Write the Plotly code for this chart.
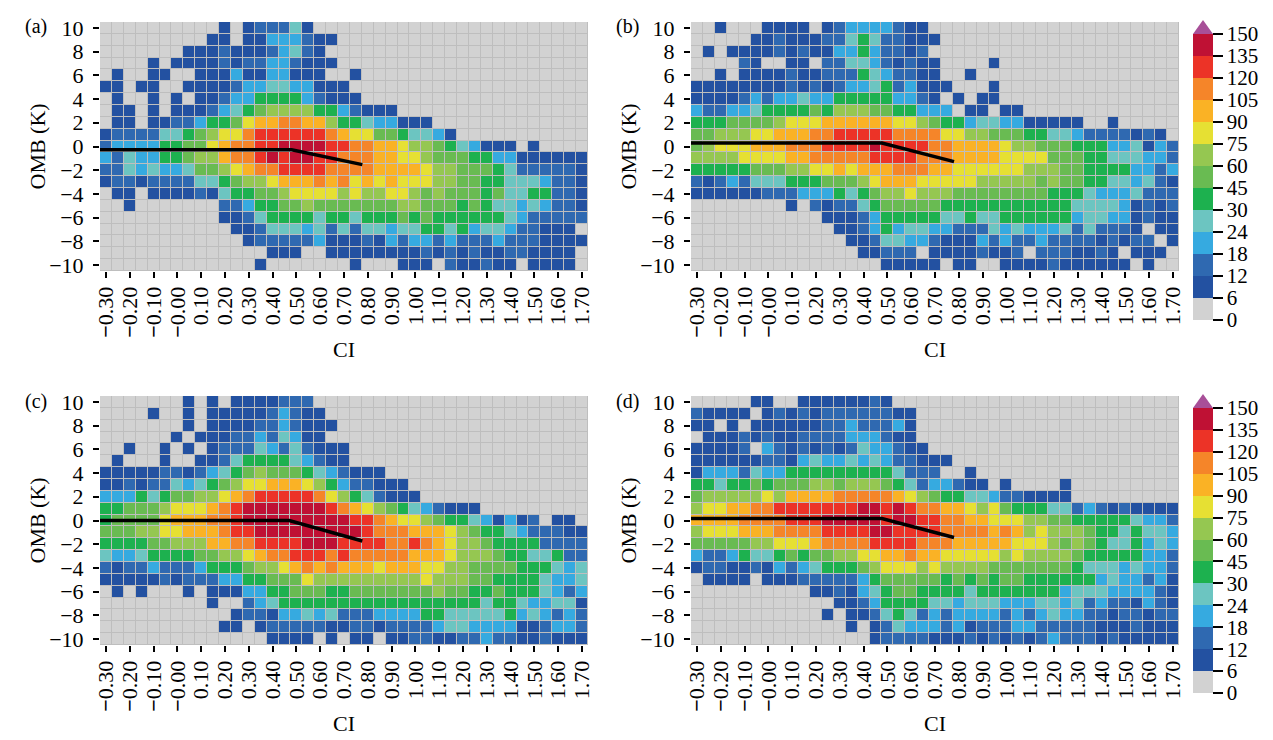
import plotly.graph_objects as go

# the page body keeps its 8 px margin, so the figure is that much smaller
PAGE_W = 1273
PAGE_H = 740
BODY = 8
W = PAGE_W - BODY
H = PAGE_H - BODY

# count bins of the colour scale; each character in the panel rows is a bin number (0-9, a-c)
bin_labels = ['0', '6', '12', '18', '24', '30', '45', '60', '75', '90', '105', '120', '135', '150']
bin_colors = ['#d2d2d2', '#2351a1', '#2f69b1', '#36aae0', '#6cc5c1', '#1db14f', '#69bb52',
              '#95c751', '#e6e033', '#fab225', '#f58529', '#ec3327', '#bf1134']

ci = [round(-0.30 + 0.05 * i, 2) for i in range(41)]
omb = list(range(10, -11, -1))
ci_ticks = [round(-0.30 + 0.1 * i, 1) for i in range(21)]
ci_labels = ['<b>−</b>0.30', '<b>−</b>0.20', '<b>−</b>0.10', '<b>−</b>0.00', '0.10', '0.20', '0.30', '0.40',
             '0.50', '0.60', '0.70', '0.80', '0.90', '1.00', '1.10', '1.20', '1.30', '1.40', '1.50', '1.60', '1.70']
omb_ticks = [10, 8, 6, 4, 2, 0, -2, -4, -6, -8, -10]
omb_labels = ['10', '8', '6', '4', '2', '0', '−2', '−4', '−6', '−8', '−10']

# rows run from OMB=10 down to OMB=-10, empty cells at the right end of a row are left out
panel_a = [
    '000000000010122241',
    '00000000011011333211',
    '0000000111211123421',
    '00001011112122332111',
    '0100110011131133111001',
    '110110011112334433111',
    '0100101011233555532111',
    '0110101112345677775532111',
    '011011223556899aa99755433111',
    '122224456788abbbbbba9886654431',
    '23333556689aabbccccbbaa99877654311101',
    '32433556779aabcbccbbaaa998876665533111111',
    '2243433466789aabbbbaaaa999987766654222221',
    '122122224456778999a9a89898887766554443221',
    '01101111214556678888787788767666564455221',
    '00100000002235566766666667766656544343221',
    '00000000001124555545545556565555554322222',
    '00000000000112444342424434455453443221110',
    '00000000000012222231112132332322232221111',
    '00000000000000111001111111121212112211110',
    '00000000000001000000010001110211211011110',
]
panel_b = [
    '00100011110123333211',
    '000001121112245422111',
    '01011112121133532212',
    '00002100110224432121100001',
    '001011112112225432211001',
    '11111111212123345231110001',
    '11112323343355555332101011',
    '3223345555657776655333011011',
    '555666678889999998876553443311111001',
    '6677788999aabbbbbaaaa88776665544322221210',
    '67888999aaabbbbcbbbbaa9999877666555334132',
    '7777888899aaaaabbbbaaa9999888866655444332',
    '55555666778898999aaa998888887776655553323',
    '21232444555666789998888877777676655443421',
    '11111122233354567787776666666655543334222',
    '00000000102122456666655555555555444431212',
    '00000000000111235555544544555555344331211',
    '00000000000011235344332224343334242221011',
    '00000000000001124433211132322322221212201',
    '00000000000000112220111121120222112101110',
    '000000000000000011111011001111211111101',
]
panel_c = [
    '000000010101111222',
    '0000100101111123211',
    '00000001011112232111',
    '0000001011122324311',
    '001001010122243242111',
    '010001001124555543211',
    '111112212345676665432111',
    '11212243456788999875322111',
    '333545667789abbbbba87542111',
    '5566678889abcccccccba98765432111',
    '566668999aabcccccccccbba98876554313120110',
    '6667788999abbcccccccccbaaa999876554322211',
    '55556677799aabbbbcccbbbbaaba9877655552222',
    '43345555667789aabbbabaaaaa999877765544522',
    '21223222355567789a9a999899988776666555434',
    '11111212223355666877777777787776655554334',
    '01010001011133556665566666667665565554323',
    '00000000010023455555555555555555455433441',
    '00000000000122133434222333355444445343232',
    '00000000001101222221122122223443333112332',
    '00000000000000111101011011221122322112111',
]
panel_d = [
    '00000110011111121',
    '2111101212122222211',
    '1101011111122322231',
    '0111212112222333211',
    '11112032121212433211',
    '1111112213433434322111',
    '133324335555555554222001',
    '55455656667767776542332110100001',
    '677777879999aaaaa987655443221111',
    '78899aabbbbbbbccbcbaa99878655544232121111',
    '9999aaaabbbcccccbccbbaa998887766555554332',
    '7888999aaaabbbbccbbbbaaaa9a97877765545443',
    '66666778889aaaabbbbaaa9999988876765445343',
    '322354456566778899a9988888787777655555332',
    '12211213234555678887877776666666544434332',
    '01111011122222356666656565665555553433231',
    '00000000001121345665555455555553444333321',
    '00000000000011235555443444333443423221321',
    '00000000000101124542323333232343322122122',
    '00000000000001012433323122233222221112111',
    '00000000000000012222111212121232221211111',
]

# fit lines drawn on top of each panel
line_x_a = [-0.325, 0.48, 0.777]
line_y_a = [-0.28, -0.28, -1.53]
line_x_b = [-0.325, 0.477, 0.78]
line_y_b = [0.3, 0.3, -1.28]
line_x_c = [-0.325, 0.47, 0.777]
line_y_c = [0.0, 0.0, -1.73]
line_x_d = [-0.325, 0.477, 0.78]
line_y_d = [0.17, 0.17, -1.43]


def cells(rows):
    # +0.5 puts every bin in the middle of its colour band
    return [[int(c, 16) + 0.5 for c in r.ljust(41, '0')] for r in rows]


def fx(px):
    return (px - BODY) / W


def fy(py):
    return 1 - (py - BODY) / H


stops = []
for i, c in enumerate(bin_colors):
    stops.append([i / 13, c])
    stops.append([(i + 1) / 13, c])

font = 'Liberation Serif'
fig = go.Figure()

panels = [
    ('(a)', panel_a, line_x_a, line_y_a, 'x', 'y', 'coloraxis', 100, 588, 22, 271, 36),
    ('(b)', panel_b, line_x_b, line_y_b, 'x2', 'y2', 'coloraxis', 691, 1179, 22, 271, 627),
    ('(c)', panel_c, line_x_c, line_y_c, 'x3', 'y3', 'coloraxis2', 100, 588, 396, 645, 36),
    ('(d)', panel_d, line_x_d, line_y_d, 'x4', 'y4', 'coloraxis2', 691, 1179, 396, 645, 627),
]

annotations = []
for name, rows, lx, ly, xa, ya, cax, left, right, top, bottom, label_x in panels:
    fig.add_trace(go.Heatmap(x=ci, y=omb, z=cells(rows), coloraxis=cax, xgap=1, ygap=1, xaxis=xa, yaxis=ya))
    fig.add_trace(go.Scatter(x=lx, y=ly, mode='lines', line=dict(color='black', width=3.5),
                             showlegend=False, xaxis=xa, yaxis=ya))
    xname = 'xaxis' + xa[1:]
    yname = 'yaxis' + ya[1:]
    fig.update_layout({
        xname: dict(domain=[fx(left), fx(right)], range=[-0.325, 1.725], anchor=ya,
                    tickmode='array', tickvals=ci_ticks, ticktext=ci_labels, tickangle=-90,
                    ticks='outside', ticklen=6, tickwidth=1.5, tickcolor='black', showgrid=False,
                    zeroline=False, tickfont=dict(family=font, size=22, color='black')),
        yname: dict(domain=[fy(bottom), fy(top)], range=[-10.5, 10.5], anchor=xa,
                    tickmode='array', tickvals=omb_ticks, ticktext=omb_labels, ticklabelstandoff=5,
                    ticks='outside', ticklen=6, tickwidth=1.5, tickcolor='black', showgrid=False,
                    zeroline=False, tickfont=dict(family=font, size=22, color='black')),
    })
    annotations.append(dict(text=name, x=fx(label_x), y=fy(top + 5), xref='paper', yref='paper',
                            xanchor='center', yanchor='middle', showarrow=False,
                            font=dict(family=font, size=20, color='black')))
    annotations.append(dict(text='OMB (K)', x=fx(label_x + 1), y=fy((top + bottom) / 2),
                            xref='paper', yref='paper', xanchor='center', yanchor='middle',
                            showarrow=False, textangle=-90, font=dict(family=font, size=22, color='black')))
    annotations.append(dict(text='CI', x=fx((left + right) / 2), y=fy(bottom + 78),
                            xref='paper', yref='paper', xanchor='center', yanchor='middle', showarrow=False,
                            font=dict(family=font, size=22, color='black')))


def color_axis(top, bottom):
    return dict(colorscale=stops, cmin=0, cmax=13, colorbar=dict(
        lenmode='pixels', len=bottom - top, thickness=20, thicknessmode='pixels',
        x=fx(1193), xanchor='left', xpad=0, y=fy((top + bottom) / 2), yanchor='middle', ypad=0,
        tickmode='array', tickvals=list(range(14)), ticktext=bin_labels, ticks='outside', ticklen=10,
        tickwidth=1.5, tickcolor='black', outlinewidth=0,
        tickfont=dict(family=font, size=21, color='black')))


# little triangle on top of each colour bar
shapes = []
for top in [34, 408]:
    shapes.append(dict(type='path', xref='paper', yref='paper', line_width=0, fillcolor='#a84f98',
                       path=f'M {fx(1193)} {fy(top)} L {fx(1213)} {fy(top)} L {fx(1203)} {fy(top - 14)} Z'))

fig.update_layout(width=W, height=H, margin=dict(l=0, r=0, t=0, b=0, autoexpand=False), paper_bgcolor='white',
                  plot_bgcolor='#bebebe', showlegend=False, coloraxis=color_axis(34, 320),
                  coloraxis2=color_axis(408, 693), annotations=annotations, shapes=shapes)

fig.write_html("out.html")
